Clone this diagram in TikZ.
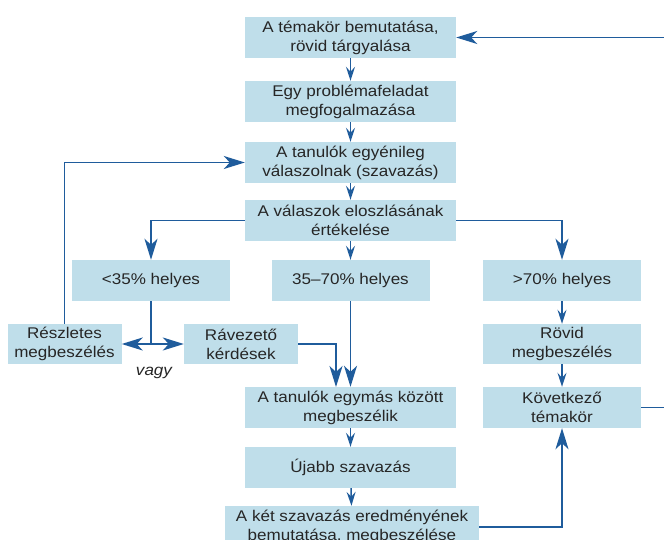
\documentclass[tikz,border=0pt]{standalone}
\usepackage{fontspec}
\setmainfont{Liberation Sans}
\newfontfamily\boxfont[FakeStretch=1.1]{Liberation Sans}
\usetikzlibrary{arrows.meta}
\definecolor{boxfill}{HTML}{BFDEEA}
\definecolor{linecol}{HTML}{1F5C9C}
\definecolor{txt}{HTML}{262626}
\begin{document}
\begin{tikzpicture}[x=1pt,y=-1pt,
  box/.style={draw=none, fill=boxfill, text=txt, align=center, inner sep=0pt,
    font=\boxfont\fontsize{15.5}{19}\selectfont},
  wide/.style={box, minimum width=211pt, minimum height=41pt},
  side/.style={box, minimum width=158pt, minimum height=41pt},
  lbox/.style={box, minimum width=114pt, minimum height=40pt},
  conn/.style={draw=linecol, line width=1.5pt},
  small/.style={conn, -{Stealth[length=14pt,width=9pt,inset=5pt]}},
  big/.style={conn, -{Stealth[length=21pt,width=13pt,inset=6pt]}},
  bigboth/.style={conn, {Stealth[length=21pt,width=13pt,inset=6pt]}-{Stealth[length=21pt,width=13pt,inset=6pt]}}
]
\clip (0,0) rectangle (664,540);
\fill[white] (0,0) rectangle (664,540);

\node[wide] (b1) at (350.5,37.5) {A témakör bemutatása,\\rövid tárgyalása};
\node[wide] (b2) at (350.5,101.5) {Egy problémafeladat\\megfogalmazása};
\node[wide] (b3) at (350.5,162.5) {A tanulók egyénileg\\válaszolnak (szavazás)};
\node[wide] (b4) at (350.5,220.5) {A válaszok eloszlásának\\értékelése};
\node[side] (lt) at (151,280.5) {<35\% helyes};
\node[side] (mid) at (350.5,280.5) {35–70\% helyes};
\node[side] (gt) at (562,280.5) {>70\% helyes};
\node[lbox] (resz) at (64.5,344) {Részletes\\megbeszélés};
\node[lbox] (rav) at (241,344) {Rávezető\\kérdések};
\node[side, minimum height=40pt] (rovid) at (562,344) {Rövid\\megbeszélés};
\node[wide] (egy) at (350.5,407.5) {A tanulók egymás között\\megbeszélik};
\node[side] (kov) at (562,407.5) {Következő\\témakör};
\node[wide] (ujabb) at (350.5,467.5) {Újabb szavazás};
\node[box, minimum width=254pt, minimum height=42pt] (last) at (352,527) {A két szavazás eredményének\\bemutatása, megbeszélése};
\node[text=txt, inner sep=0pt, font=\boxfont\itshape\fontsize{15.5}{19}\selectfont] (vagy) at (154,373) {vagy};

\draw[small] (b1) -- (b2);
\draw[small] (b2) -- (b3);
\draw[small] (b3) -- (b4);
\draw[big] (b4.west) -| (lt.north);
\draw[big] (b4.east) -| (gt.north);
\draw[small] (b4) -- (mid);
\draw[conn] (lt.south) -- (lt.south |- resz.east);
\draw[bigboth] (resz.east) -- (rav.west);
\draw[big] (resz.north) |- (b3.west);
\coordinate (egyL) at (336,387);
\draw[big] (rav.east) -| (egyL);
\draw[big] (mid) -- (egy);
\draw[small] (egy) -- (ujabb);
\draw[small] (ujabb) -- (last);
\draw[small] (gt) -- (rovid);
\draw[small] (rovid) -- (kov);
\draw[big] (last.east) -| (kov.south);
\draw[big] (kov.east) -- ++(40,0) |- (b1.east);
\end{tikzpicture}
\end{document}
